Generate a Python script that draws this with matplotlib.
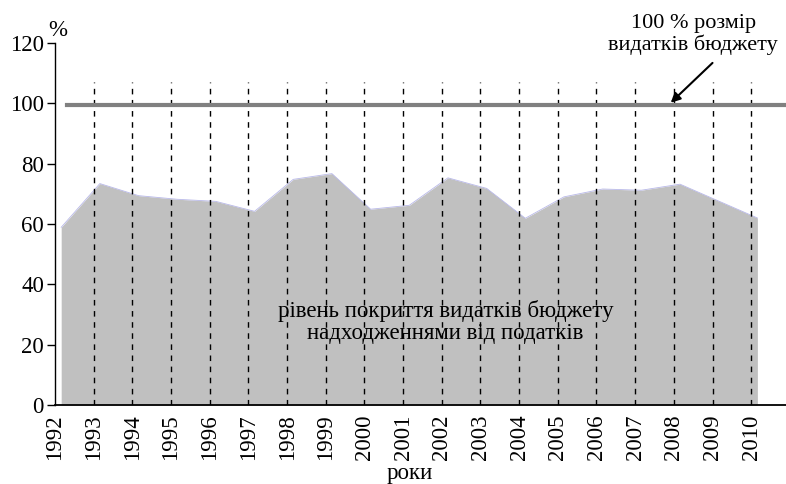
"""Budget expenditure coverage by tax revenue, Ukraine 1992-2010."""

import matplotlib

matplotlib.use("Agg")

import matplotlib.pyplot as plt  # noqa: E402
import numpy as np  # noqa: E402

years = np.arange(1992, 2011)
coverage = [58.9, 73.4, 69.4, 68.2, 67.5, 64.2, 74.8, 76.7, 64.9, 66.2,
            75.3, 71.8, 61.9, 69.0, 71.6, 71.2, 73.2, 67.6, 62.0]
budget_level = 99.6
tick_years = [str(y) for y in years]

AREA_COLOR = "#c0c0c0"
LINE_COLOR = "#808080"
INK = "black"
FONT = "Liberation Serif"
SIZE = 16.5

fig = plt.figure(figsize=(7.86, 4.84), dpi=100)
ax = fig.add_axes([55 / 786, 1 - 405 / 484, 731 / 786, (405 - 43) / 484])

# the vertices sit a touch right of the year gridlines in the original
xs = years + 0.16
ax.fill_between(xs, coverage, 0, color=AREA_COLOR, linewidth=0, zorder=1)
ax.plot(xs, coverage, color="#b8b8e8", linewidth=0.6, zorder=1.5)

for yr in years[1:]:
    ax.plot([yr, yr], [0, 107], color=INK, linestyle=(0, (4, 4)),
            linewidth=1.0, zorder=2)

ax.plot([1992.31, 2011.0], [budget_level, budget_level], color=LINE_COLOR,
        linewidth=3, zorder=3, clip_on=False)

ax.set_xlim(1992.154, 2010.9)
ax.set_ylim(0, 120)
ax.set_yticks(range(0, 121, 20))
ax.set_xticks(years)
ax.set_xticklabels(tick_years, rotation=90, fontsize=SIZE, fontfamily=FONT)
ax.set_yticklabels([str(v) for v in range(0, 121, 20)], fontsize=SIZE, fontfamily=FONT)
ax.tick_params(axis="y", length=6, width=1, pad=2, colors=INK)
ax.tick_params(axis="x", length=0, pad=7, colors=INK)

for spine in ("top", "right"):
    ax.spines[spine].set_visible(False)
ax.spines["left"].set_linewidth(1.0)
ax.spines["bottom"].set_linewidth(1.3)
ax.spines["bottom"].set_zorder(4)

fig.text(58 / 786, 1 - 31 / 484, "%", ha="center", va="center", fontsize=SIZE,
         fontfamily=FONT)
fig.text(410 / 786, 1 - 473 / 484, "роки", ha="center", va="center", fontsize=SIZE,
         fontfamily=FONT)

ax.text(2002.1, 27.5, "рівень покриття видатків бюджету\nнадходженнями від податків",
        ha="center", va="center", fontsize=SIZE, linespacing=1.1, zorder=5,
        fontfamily=FONT)

ax.text(2008.5, 122.8, "100 % розмір\nвидатків бюджету", ha="center",
        va="center", fontsize=16, linespacing=1.15, clip_on=False, fontfamily=FONT)
ax.annotate("", xy=(2007.92, budget_level + 0.6), xytext=(2009.0, 113.4),
            annotation_clip=False,
            arrowprops=dict(arrowstyle="-|>", color=INK, lw=1.5,
                            shrinkA=0, shrinkB=0, mutation_scale=14))

fig.savefig("out.png", facecolor="white")
